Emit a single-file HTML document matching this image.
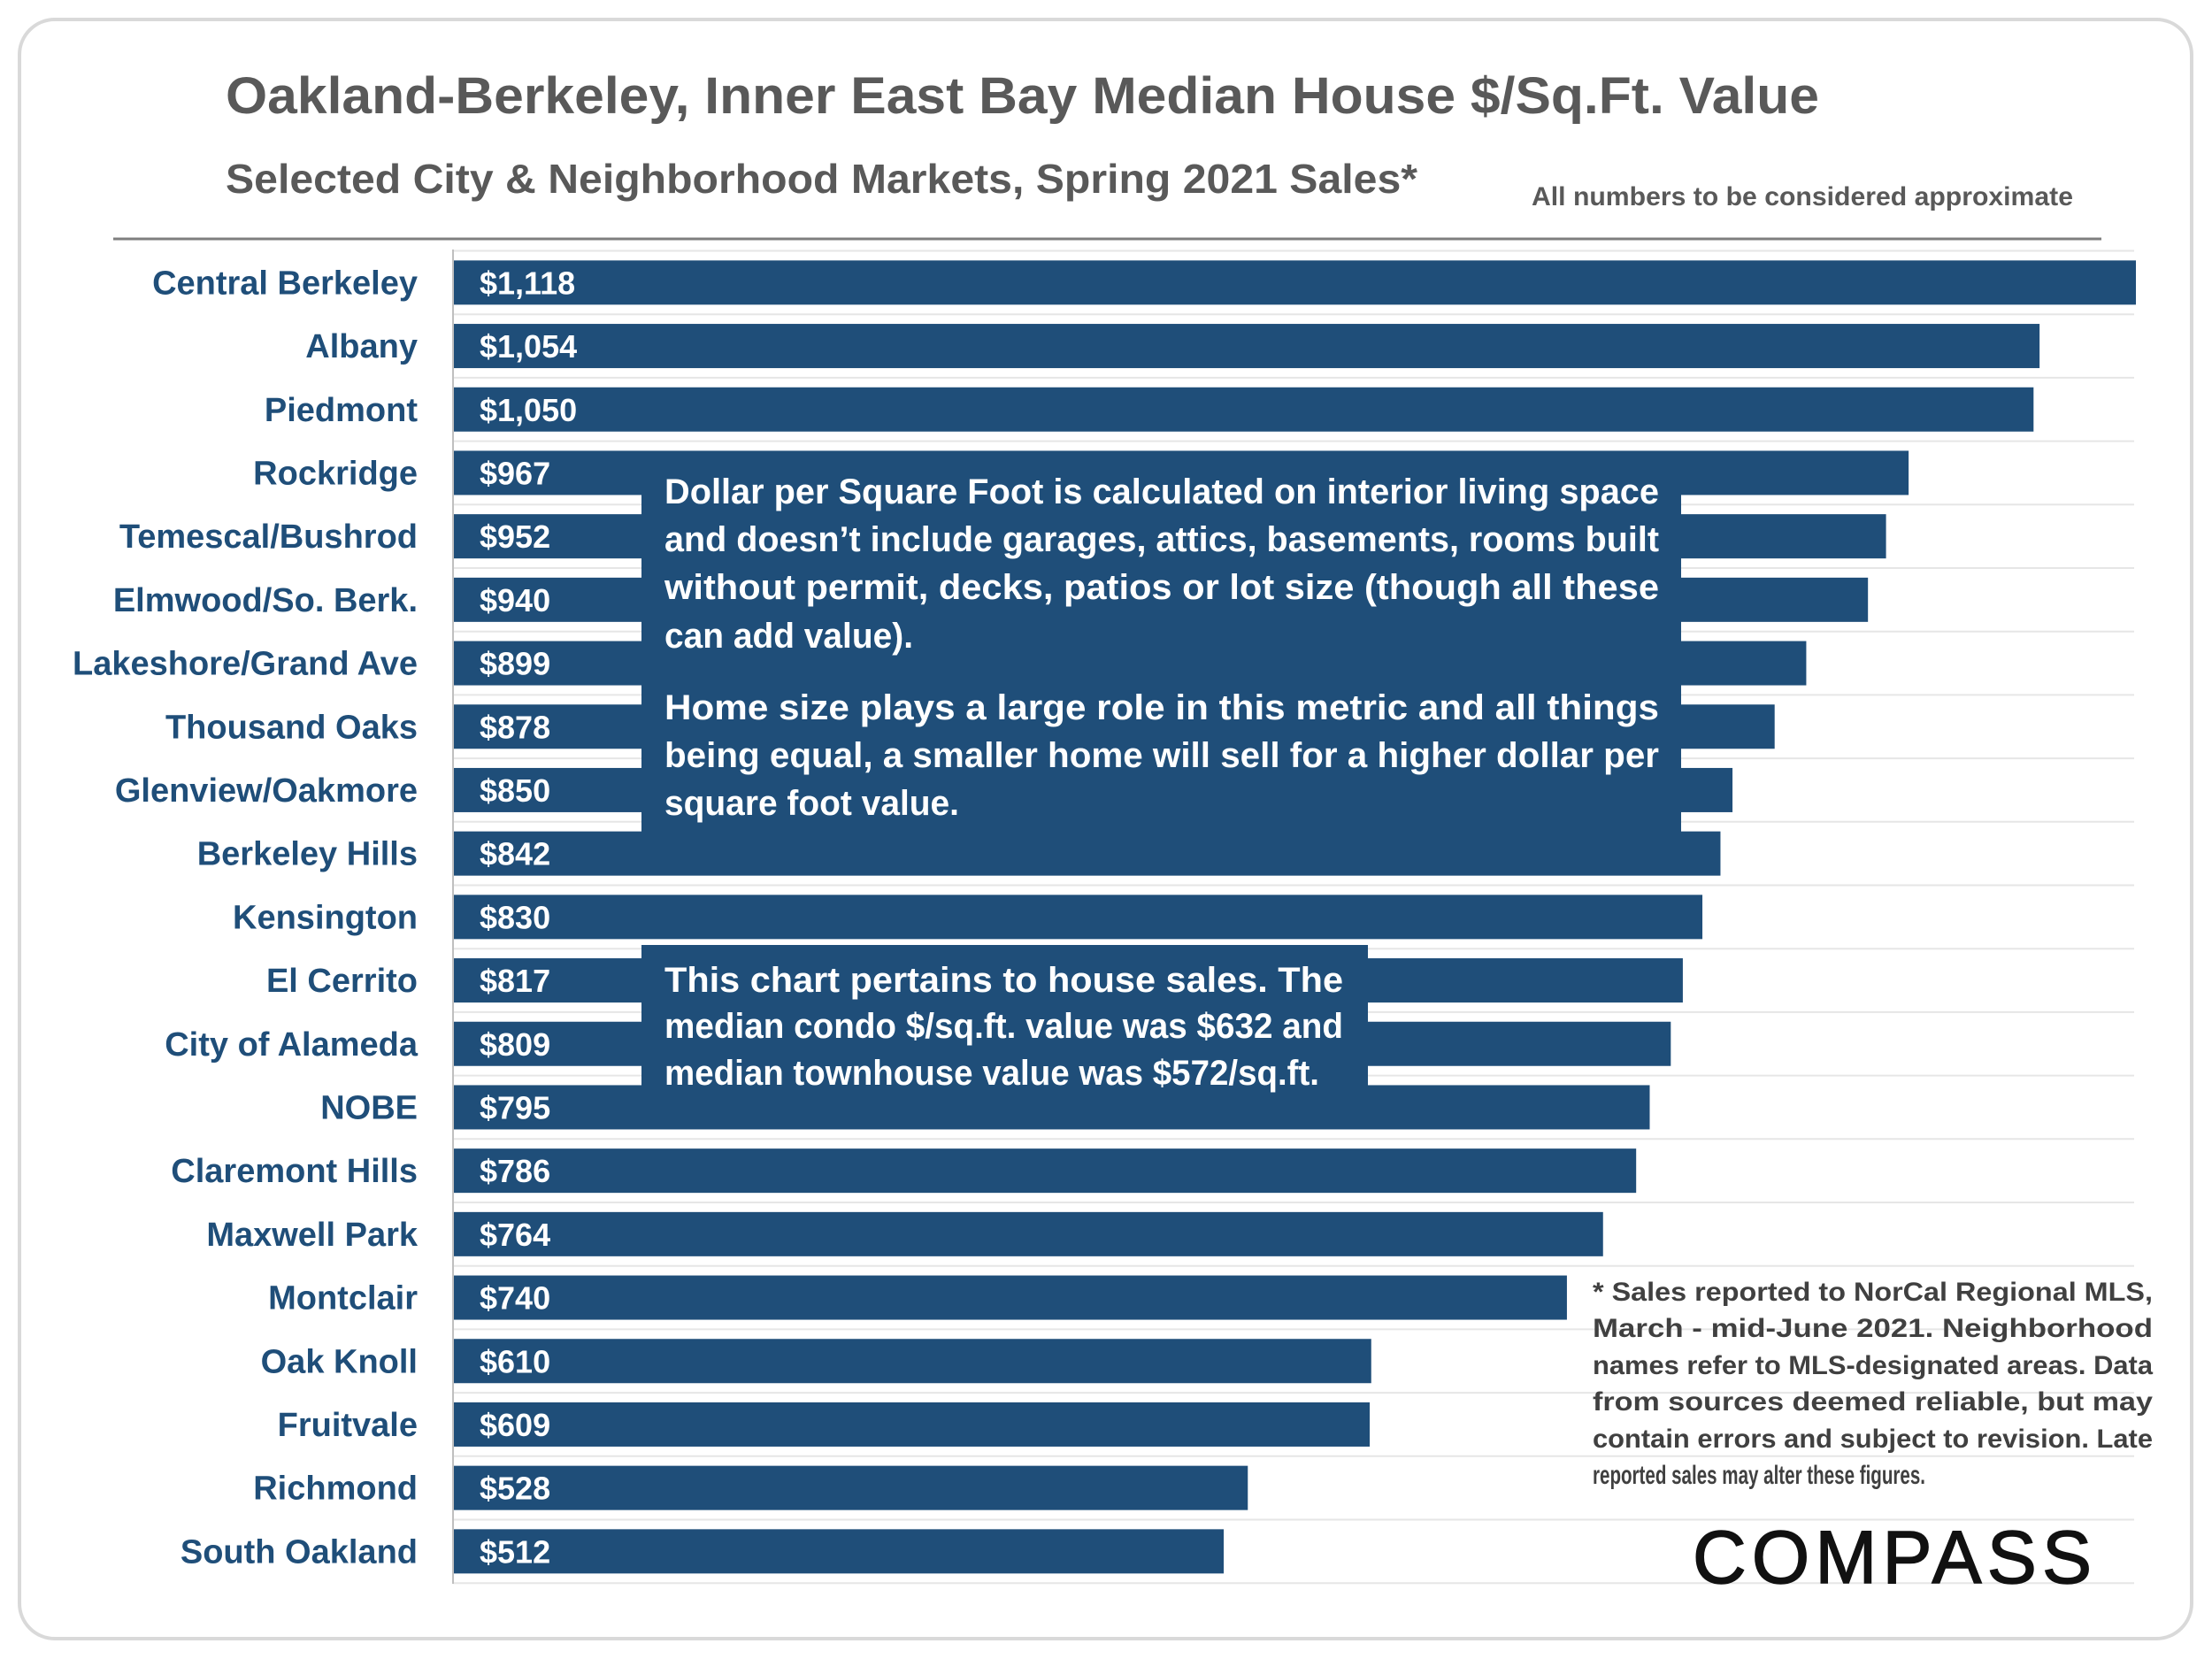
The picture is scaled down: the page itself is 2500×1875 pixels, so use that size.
<!DOCTYPE html>
<html><head><meta charset="utf-8"><style>
html,body{margin:0;padding:0;background:#fff;}
svg{display:block;}
text{font-family:"Liberation Sans",sans-serif;font-weight:bold;}
</style></head><body>
<svg id="chart" width="2500" height="1875" viewBox="0 0 2500 1875" xmlns="http://www.w3.org/2000/svg">
<rect x="22" y="22" width="2455" height="1830" rx="40" fill="#fff" stroke="#d9d9d9" stroke-width="4"/>
<text x="255" y="128" font-size="58" fill="#595959" textLength="1801" lengthAdjust="spacingAndGlyphs">Oakland-Berkeley, Inner East Bay Median House $/Sq.Ft. Value</text>
<text x="255" y="218" font-size="46" fill="#595959" textLength="1347" lengthAdjust="spacingAndGlyphs">Selected City &amp; Neighborhood Markets, Spring 2021 Sales*</text>
<text x="1731" y="232" font-size="30" fill="#595959" textLength="612" lengthAdjust="spacingAndGlyphs">All numbers to be considered approximate</text>
<line x1="128" y1="270" x2="2375" y2="270" stroke="#7f7f7f" stroke-width="3"/>
<g id="grid"></g><g id="bars"></g><g id="labels"></g>
<line x1="512" y1="282" x2="512" y2="1790" stroke="#bfbfbf" stroke-width="2"/>
<g>
<rect x="725" y="526" width="1175" height="462" fill="#1f4e79"/>
<g fill="#fff" font-size="40">
<text x="751" y="569" textLength="1124" lengthAdjust="spacingAndGlyphs">Dollar per Square Foot is calculated on interior living space</text>
<text x="751" y="623" textLength="1124" lengthAdjust="spacingAndGlyphs">and doesn’t include garages, attics, basements, rooms built</text>
<text x="751" y="677" textLength="1124" lengthAdjust="spacingAndGlyphs">without permit, decks, patios or lot size (though all these</text>
<text x="751" y="732" textLength="281" lengthAdjust="spacingAndGlyphs">can add value).</text>
<text x="751" y="813" textLength="1124" lengthAdjust="spacingAndGlyphs">Home size plays a large role in this metric and all things</text>
<text x="751" y="867" textLength="1124" lengthAdjust="spacingAndGlyphs">being equal, a smaller home will sell for a higher dollar per</text>
<text x="751" y="921" textLength="333" lengthAdjust="spacingAndGlyphs">square foot value.</text>
</g></g>
<g>
<rect x="725" y="1068" width="821" height="159" fill="#1f4e79"/>
<g fill="#fff" font-size="40">
<text x="751" y="1121" textLength="767" lengthAdjust="spacingAndGlyphs">This chart pertains to house sales. The</text>
<text x="751" y="1173" textLength="767" lengthAdjust="spacingAndGlyphs">median condo $/sq.ft. value was $632 and</text>
<text x="751" y="1226" textLength="740" lengthAdjust="spacingAndGlyphs">median townhouse value was $572/sq.ft.</text>
</g></g>
<g fill="#404040" font-size="30">
<text x="1800" y="1470" textLength="633" lengthAdjust="spacingAndGlyphs">* Sales reported to NorCal Regional MLS,</text>
<text x="1800" y="1511" textLength="633" lengthAdjust="spacingAndGlyphs">March  -  mid-June  2021.  Neighborhood</text>
<text x="1800" y="1553" textLength="633" lengthAdjust="spacingAndGlyphs">names refer to MLS-designated areas. Data</text>
<text x="1800" y="1594" textLength="633" lengthAdjust="spacingAndGlyphs">from  sources  deemed  reliable,  but  may</text>
<text x="1800" y="1636" textLength="633" lengthAdjust="spacingAndGlyphs">contain errors and subject to revision. Late</text>
<text x="1800" y="1677" textLength="376" lengthAdjust="spacingAndGlyphs">reported sales may alter these figures.</text>
</g>
<text x="1913" y="1789" font-size="84" style="font-weight:normal" fill="#111" stroke="#111" stroke-width="1.5" textLength="451" lengthAdjust="spacing">COMPASS</text>
</svg>
<script>
const categories = ["Central Berkeley","Albany","Piedmont","Rockridge","Temescal/Bushrod","Elmwood/So. Berk.","Lakeshore/Grand Ave","Thousand Oaks","Glenview/Oakmore","Berkeley Hills","Kensington","El Cerrito","City of Alameda","NOBE","Claremont Hills","Maxwell Park","Montclair","Oak Knoll","Fruitvale","Richmond","South Oakland"];
const values = [1118,1054,1050,967,952,940,899,878,850,842,830,817,809,795,786,764,740,610,609,528,512];
const valueLabels = ["$1,118","$1,054","$1,050","$967","$952","$940","$899","$878","$850","$842","$830","$817","$809","$795","$786","$764","$740","$610","$609","$528","$512"];

const NS = "http://www.w3.org/2000/svg";
const x0 = 512, x1 = 2414, maxV = 1118;
const top0 = 283.5, band = 71.7, barH = 50;
function xScale(v){ return x0 + (v / maxV) * (x1 - x0); }
function yCenter(i){ return top0 + band * i + band / 2; }
const grid = document.getElementById('grid'), bars = document.getElementById('bars'), labels = document.getElementById('labels');
for (let i = 0; i <= categories.length; i++) {
  const l = document.createElementNS(NS, 'line');
  
  
  const y = top0 + band * i;
  l.setAttribute('x1', x0); l.setAttribute('x2', 2412); l.setAttribute('y1', y); l.setAttribute('y2', y);
  l.setAttribute('stroke', '#e6e6e6'); l.setAttribute('stroke-width', '2');
  grid.appendChild(l);
}
categories.forEach((c, i) => {
  const yc = yCenter(i);
  const r = document.createElementNS(NS, 'rect');
  
  
  r.setAttribute('x', x0); r.setAttribute('y', yc - barH / 2);
  r.setAttribute('width', xScale(values[i]) - x0); r.setAttribute('height', barH);
  r.setAttribute('fill', '#1f4e79');
  bars.appendChild(r);
  const v = document.createElementNS(NS, 'text');
  
  
  v.setAttribute('x', 542); v.setAttribute('y', yc + 13);
  v.setAttribute('font-size', '36'); v.setAttribute('fill', '#fff');
  v.textContent = valueLabels[i];
  labels.appendChild(v);
  const t = document.createElementNS(NS, 'text');
  
  
  t.setAttribute('x', 472); t.setAttribute('y', yc + 13);
  t.setAttribute('font-size', '38'); t.setAttribute('fill', '#1f4e79');
  t.setAttribute('text-anchor', 'end');
  t.textContent = c;
  labels.appendChild(t);
});
</script>
</body></html>
